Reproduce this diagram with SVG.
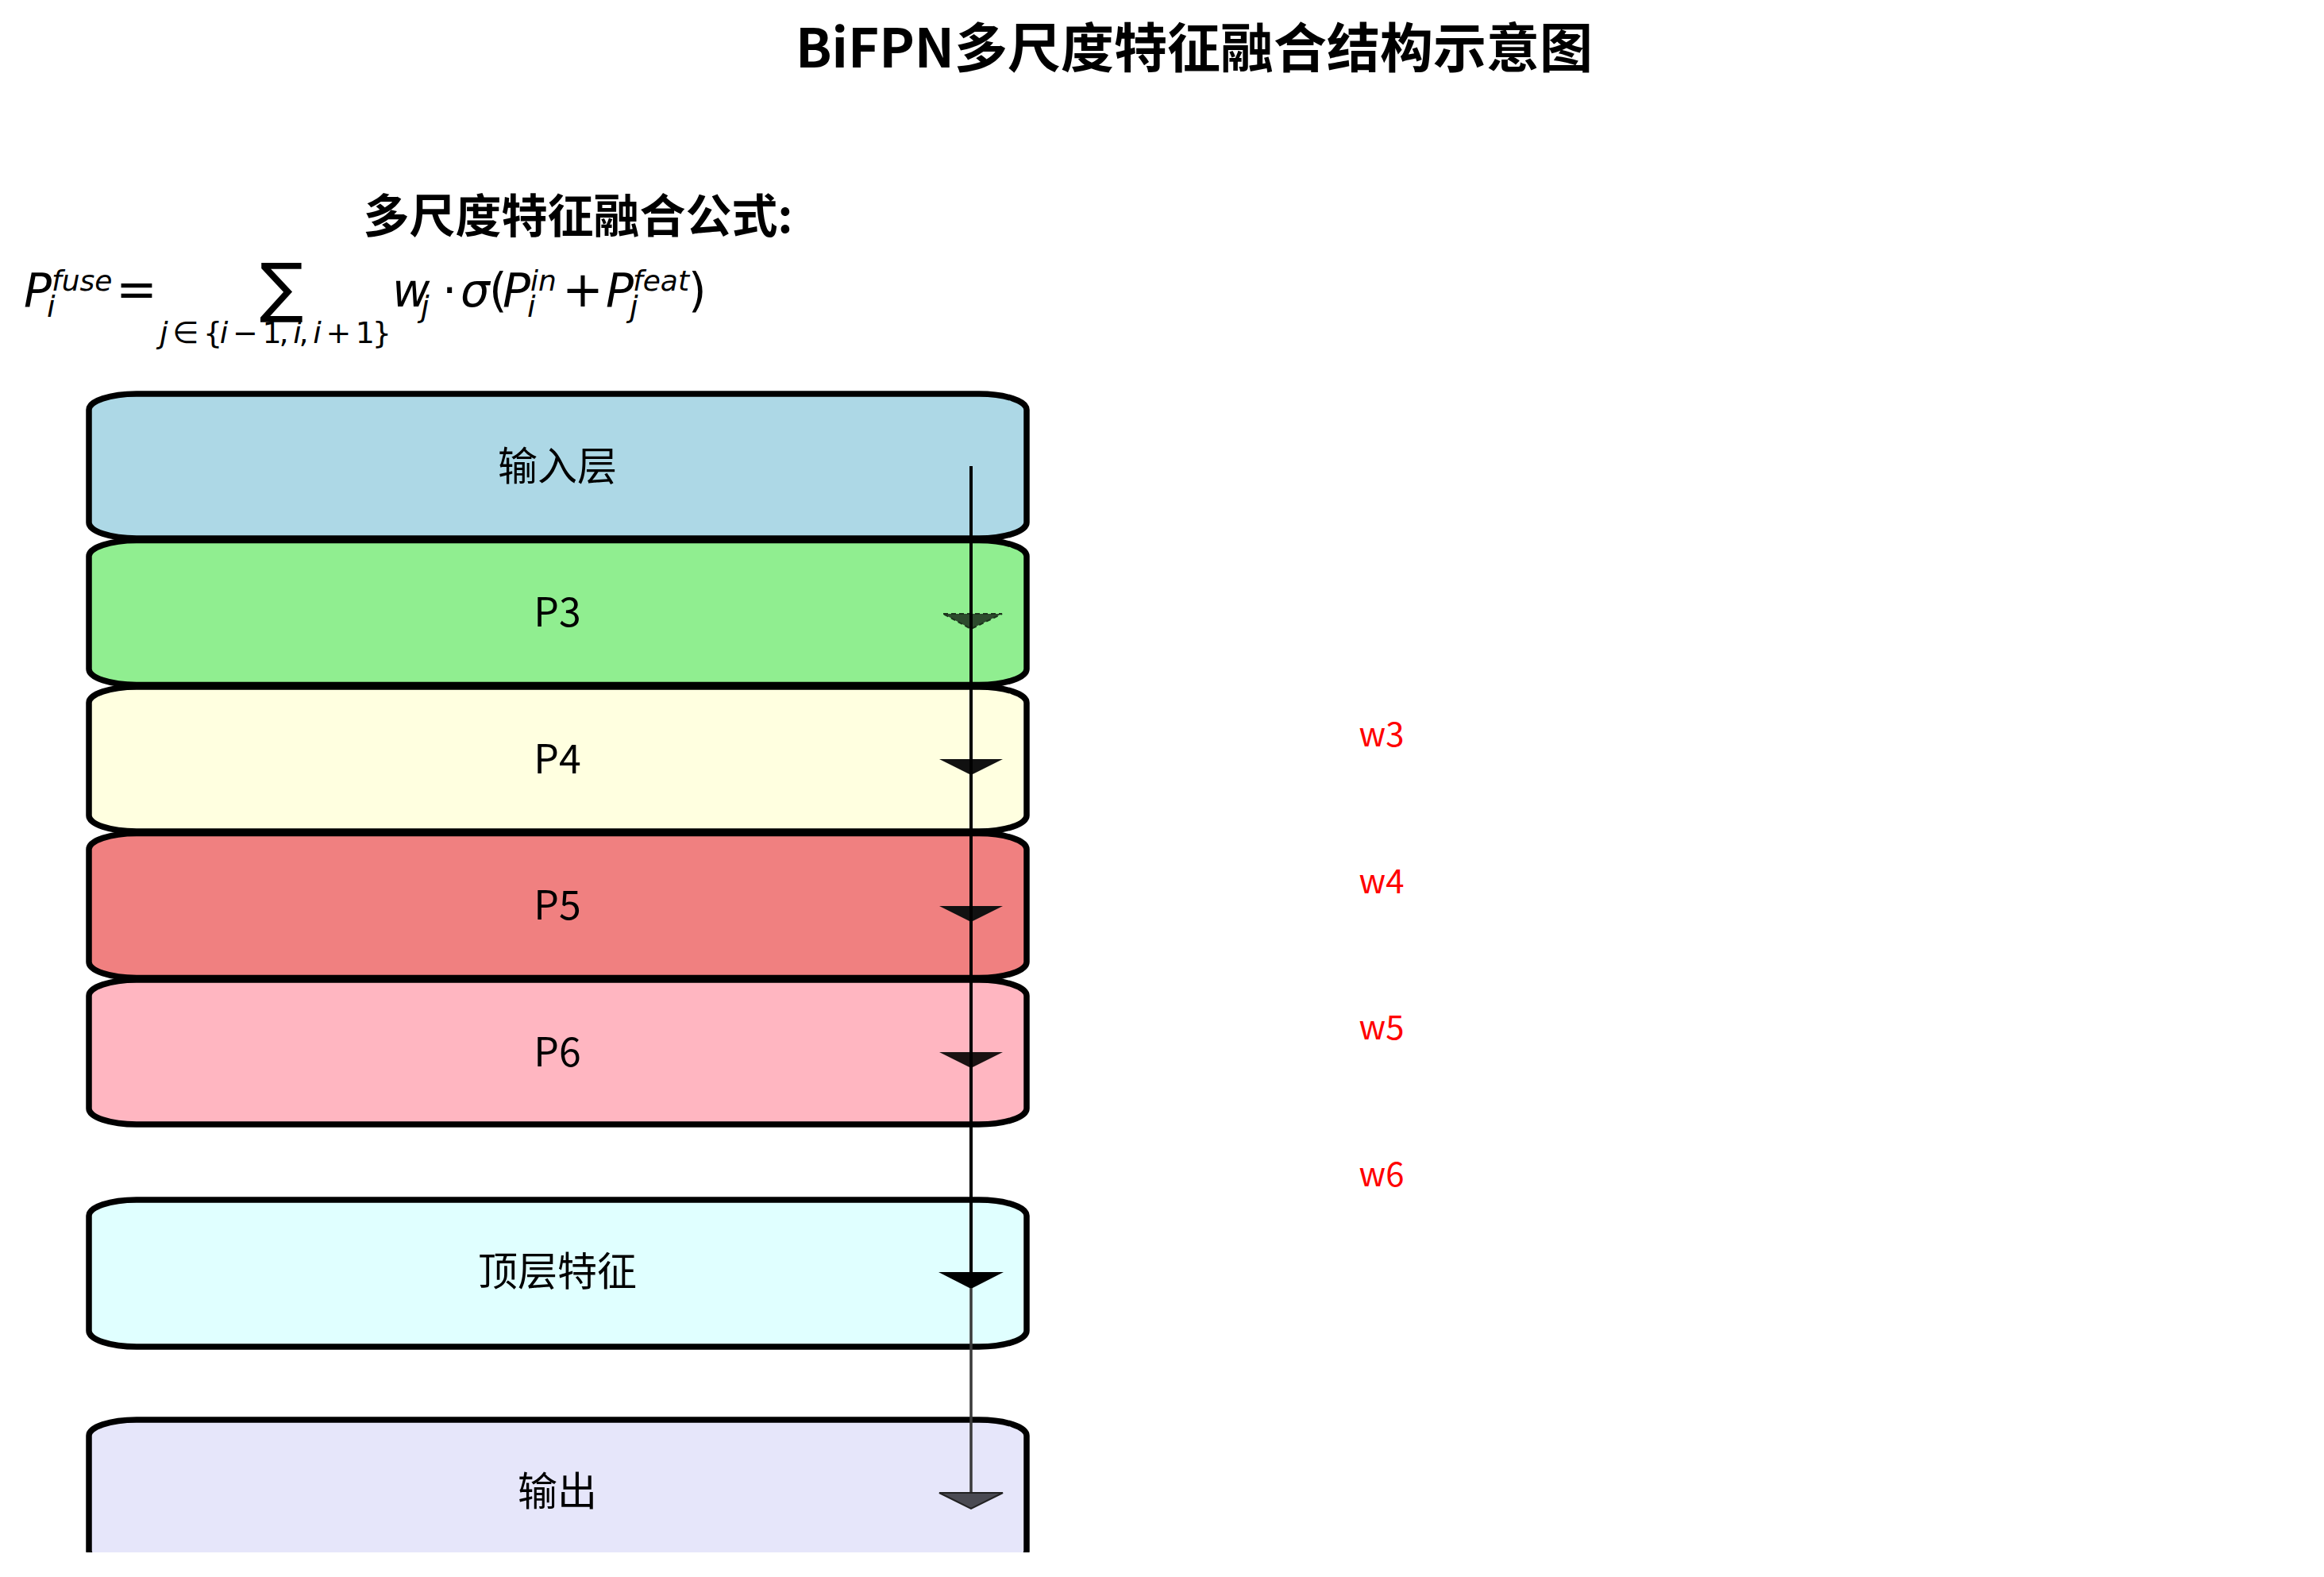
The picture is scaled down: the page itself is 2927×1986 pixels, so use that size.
<svg xmlns="http://www.w3.org/2000/svg" width="2927" height="1986" viewBox="0 0 2927 1986">
<style>
.box{stroke:#000;stroke-width:7.5}
.lbl{font-family:"Noto Sans CJK SC","Noto Sans",sans-serif;font-size:50px;fill:#000;text-anchor:middle}
.w{font-family:"Noto Sans CJK SC","Noto Sans",sans-serif;font-size:42px;fill:#ff0000;text-anchor:middle}
.m{font-family:"DejaVu Sans",sans-serif;fill:#000}
.it{font-style:italic}
</style>
<defs>
<clipPath id="pageclip"><rect x="0" y="0" width="2927" height="1955"/></clipPath>
</defs>
<rect width="2927" height="1986" fill="#fff"/>
<g id="title">
<text x="1504" y="85" font-family="Noto Sans CJK SC, sans-serif" font-size="67" font-weight="bold" text-anchor="middle">BiFPN多尺度特征融合结构示意图</text>
</g>
<g id="formula">
<text x="728" y="293" font-family="Noto Sans CJK SC, sans-serif" font-size="58" font-weight="bold" text-anchor="middle">多尺度特征融合公式:</text>
<text class="m it" x="30" y="386" font-size="58">P</text>
<text class="m it" x="65" y="366" font-size="36">fuse</text>
<text class="m it" x="59" y="399" font-size="38">i</text>
<text class="m" x="146" y="386" font-size="62">=</text>
<text class="m" x="327" y="390" font-size="82">∑</text>
<text class="m" x="201" y="432" font-size="38" textLength="292" lengthAdjust="spacing"><tspan class="it">j</tspan> ∈ {<tspan class="it">i</tspan> − 1, <tspan class="it">i</tspan>, <tspan class="it">i</tspan> + 1}</text>
<text class="m it" x="494" y="386" font-size="58">w</text>
<text class="m it" x="530" y="399" font-size="38">j</text>
<text class="m" x="557" y="386" font-size="58">·</text>
<text class="m it" x="580" y="386" font-size="58">σ</text>
<text class="m" x="616" y="386" font-size="58">(</text>
<text class="m it" x="633" y="386" font-size="58">P</text>
<text class="m it" x="668" y="366" font-size="36">in</text>
<text class="m it" x="664" y="399" font-size="38">i</text>
<text class="m" x="708" y="386" font-size="62">+</text>
<text class="m it" x="763" y="386" font-size="58">P</text>
<text class="m it" x="797" y="366" font-size="36">feat</text>
<text class="m it" x="793" y="399" font-size="38">j</text>
<text class="m" x="867" y="386" font-size="58">)</text>
</g>
<g id="node-input"><rect class="box" x="112" y="496" width="1181" height="182" rx="60" ry="20" fill="#ADD8E6"/><text class="lbl" x="702" y="605">输入层</text></g>
<g id="node-p3"><rect class="box" x="112" y="680.5" width="1181" height="182" rx="60" ry="20" fill="#90EE90"/><text class="lbl" x="702" y="789">P3</text></g>
<g id="node-p4"><rect class="box" x="112" y="865" width="1181" height="182" rx="60" ry="20" fill="#FFFFE0"/><text class="lbl" x="702" y="974">P4</text></g>
<g id="node-p5"><rect class="box" x="112" y="1049.5" width="1181" height="182" rx="60" ry="20" fill="#F08080"/><text class="lbl" x="702" y="1158">P5</text></g>
<g id="node-p6"><rect class="box" x="112" y="1234" width="1181" height="182" rx="60" ry="20" fill="#FFB6C1"/><text class="lbl" x="702" y="1343">P6</text></g>
<g id="node-top"><rect class="box" x="112" y="1511" width="1181" height="185" rx="60" ry="20" fill="#E0FFFF"/><text class="lbl" x="702" y="1619">顶层特征</text></g>
<g id="node-output" clip-path="url(#pageclip)"><rect class="box" x="112" y="1788" width="1181" height="185" rx="60" ry="20" fill="#E6E6FA"/><text class="lbl" x="702" y="1896">输出</text></g>
<g id="connectors">
<polygon points="1188,773 1262,773 1223,792" fill="#2d4a2d" stroke="#1b331b" stroke-width="2" stroke-dasharray="6,4"/>
<polygon points="1183,956 1263,956 1223,976" fill="#111"/>
<polygon points="1183,1141 1263,1141 1223,1161" fill="#111"/>
<polygon points="1183,1325 1263,1325 1223,1345" fill="#1a1212"/>
<line x1="1223" y1="587" x2="1223" y2="1610" stroke="#000" stroke-width="4"/>
<polygon points="1182,1602 1264,1602 1223,1623" fill="#000"/>
<line x1="1223" y1="1622" x2="1223" y2="1882" stroke="#3a3a3a" stroke-width="3.5"/>
<polygon points="1183,1880 1263,1880 1223,1900" fill="#4a4a52" stroke="#222" stroke-width="2"/>
</g>
<g id="weights">
<text class="w" x="1740" y="940">w3</text>
<text class="w" x="1740" y="1125">w4</text>
<text class="w" x="1740" y="1309">w5</text>
<text class="w" x="1740" y="1494">w6</text>
</g>
</svg>
